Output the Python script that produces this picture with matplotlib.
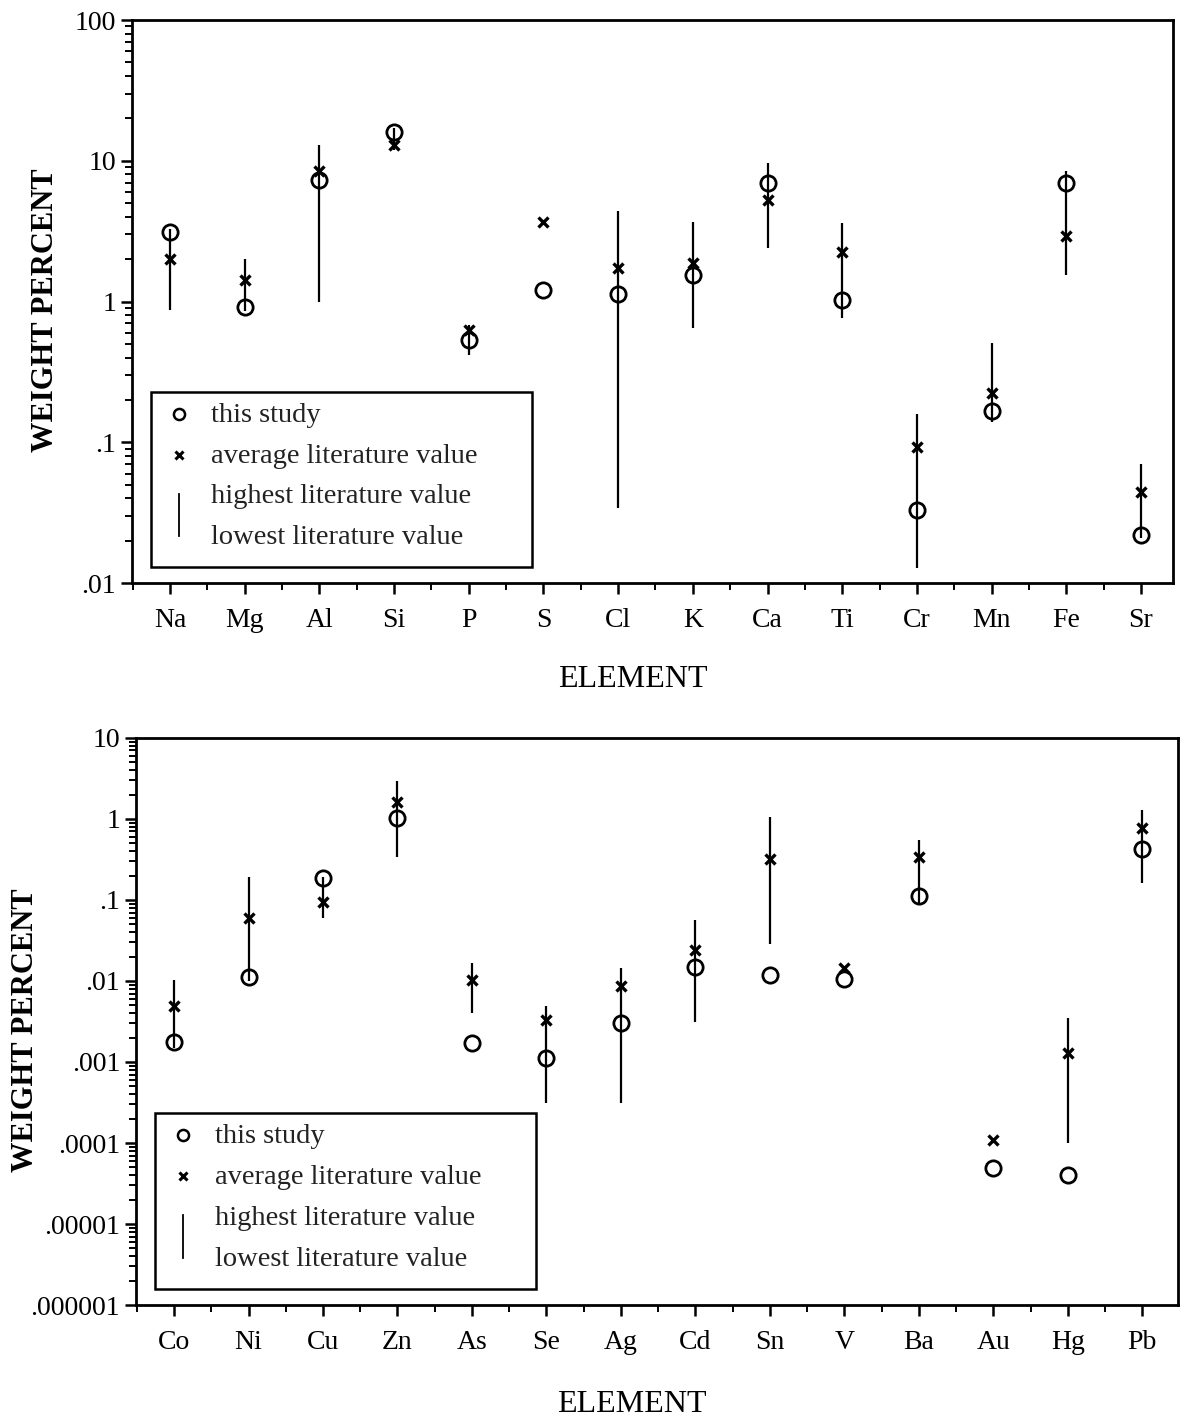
import numpy as np
import matplotlib.pyplot as plt
from matplotlib.ticker import FixedLocator, LogLocator, NullFormatter, MultipleLocator
from matplotlib.patches import Rectangle
from matplotlib.lines import Line2D

plt.rcParams['font.family'] = ['Liberation Serif', 'DejaVu Serif']

nan = np.nan

# top panel: major elements
top_elements = ["Na", "Mg", "Al", "Si", "P", "S", "Cl", "K", "Ca", "Ti", "Cr", "Mn", "Fe", "Sr"]
top_study = [3.1, 0.92, 7.3, 16.0, 0.53, 1.2, 1.13, 1.55, 7.0, 1.03, 0.033, 0.168, 7.0, 0.022]
top_avg = [2.0, 1.42, 8.5, 13.0, 0.63, 3.7, 1.72, 1.88, 5.3, 2.25, 0.092, 0.225, 2.9, 0.044]
top_high = [3.3, 2.0, 13.0, 17.0, 0.68, nan, 4.4, 3.7, 9.7, 3.6, 0.158, 0.51, 8.4, 0.07]
top_low = [0.87, 0.85, 1.0, 12.0, 0.42, nan, 0.034, 0.65, 2.4, 0.76, 0.0128, 0.14, 1.55, 0.021]
top_ticks = [100, 10, 1, 0.1, 0.01]
top_ticklabels = ["100", "10", "1", ".1", ".01"]

# bottom panel: trace elements
bot_elements = ["Co", "Ni", "Cu", "Zn", "As", "Se", "Ag", "Cd", "Sn", "V", "Ba", "Au", "Hg", "Pb"]
bot_study = [0.00175, 0.0112, 0.185, 1.02, 0.00170, 0.00113, 0.0030, 0.0150, 0.0118, 0.0105,
             0.113, 0.000049, 0.00004, 0.43]
bot_avg = [0.0049, 0.060, 0.094, 1.6, 0.0103, 0.0033, 0.0087, 0.024, 0.32, 0.0143,
           0.34, 0.000108, 0.00128, 0.77]
bot_high = [0.0103, 0.19, 0.19, 2.9, 0.0167, 0.0049, 0.0145, 0.057, 1.06, nan,
            0.55, nan, 0.0035, 1.29]
bot_low = [0.0015, 0.0100, 0.06, 0.34, 0.0040, 0.00031, 0.00031, 0.0031, 0.0286, nan,
           0.087, nan, 0.0001, 0.162]
bot_ticks = [10, 1, 0.1, 0.01, 0.001, 0.0001, 0.00001, 0.000001]
bot_ticklabels = ["10", "1", ".1", ".01", ".001", ".0001", ".00001", ".000001"]

legend_labels = ["this study", "average literature value",
                 "highest literature value", "lowest literature value"]


def draw_legend(ax):
    ax.add_patch(Rectangle((0.018, 0.028), 0.366, 0.311, transform=ax.transAxes,
                           fill=False, edgecolor="black", lw=1.8, zorder=5))
    ax.plot([0.045], [0.30], transform=ax.transAxes, marker="o", ms=8,
            mfc="none", mec="black", mew=1.8, zorder=6)
    ax.plot([0.045], [0.228], transform=ax.transAxes, marker="x", ms=6,
            mec="black", mew=2.2, zorder=6)
    ax.add_line(Line2D([0.045, 0.045], [0.083, 0.158], transform=ax.transAxes,
                       color="black", lw=1.3, zorder=6))
    ys = [0.297, 0.225, 0.153, 0.081]
    for lab, y in zip(legend_labels, ys):
        ax.text(0.076, y, lab, transform=ax.transAxes, fontsize=20.5,
                va="center", ha="left", color="#222222", zorder=6)


def draw_panel(ax, elements, study, avg, high, low, ticks, ticklabels, ylim, xlim,
               ylab_x, xlab_pos):
    x = np.arange(len(elements))
    high = np.array(high)
    low = np.array(low)
    ok = ~np.isnan(high)
    ax.vlines(x[ok], low[ok], high[ok], color="black", lw=1.6, zorder=2)
    ax.plot(x, avg, ls="none", marker="x", ms=7, mec="black", mew=2.4, zorder=3)
    ax.plot(x, study, ls="none", marker="o", ms=11, mfc="none", mec="black", mew=2.0, zorder=4)

    ax.set_yscale("log")
    ax.set_ylim(*ylim)
    ax.set_xlim(*xlim)
    ax.yaxis.set_major_locator(FixedLocator(ticks))
    ax.set_yticklabels(ticklabels)
    ax.yaxis.set_minor_locator(LogLocator(base=10, subs=np.arange(2, 10), numticks=20))
    ax.yaxis.set_minor_formatter(NullFormatter())
    ax.set_xticks(x)
    ax.set_xticklabels(elements)
    ax.xaxis.set_minor_locator(MultipleLocator(0.5))
    ax.tick_params(axis="both", which="major", direction="out", length=8, width=1.8,
                   labelsize=20, colors="black")
    ax.tick_params(axis="both", which="minor", direction="out", length=5, width=1.4)
    ax.tick_params(axis="x", which="major", pad=10)
    for sp in ax.spines.values():
        sp.set_linewidth(2.0)
    ax.set_ylabel("WEIGHT PERCENT", fontsize=22, fontweight="bold")
    ax.yaxis.set_label_coords(ylab_x, 0.485)
    ax.set_xlabel("ELEMENT", fontsize=23)
    ax.xaxis.set_label_coords(*xlab_pos)
    draw_legend(ax)


fig = plt.figure(figsize=(11.84, 14.21), dpi=100)
ax1 = fig.add_axes([0.1115, 0.5897, 0.8792, 0.3962])
ax2 = fig.add_axes([0.1149, 0.0816, 0.8801, 0.3991])

draw_panel(ax1, top_elements, top_study, top_avg, top_high, top_low,
           top_ticks, top_ticklabels, (0.01, 100), (-0.51, 13.43),
           -0.069, (0.481, -0.146))
draw_panel(ax2, bot_elements, bot_study, bot_avg, bot_high, bot_low,
           bot_ticks, bot_ticklabels, (0.000001, 10), (-0.51, 13.48),
           -0.092, (0.476, -0.150))

fig.savefig("out.png", dpi=100)
